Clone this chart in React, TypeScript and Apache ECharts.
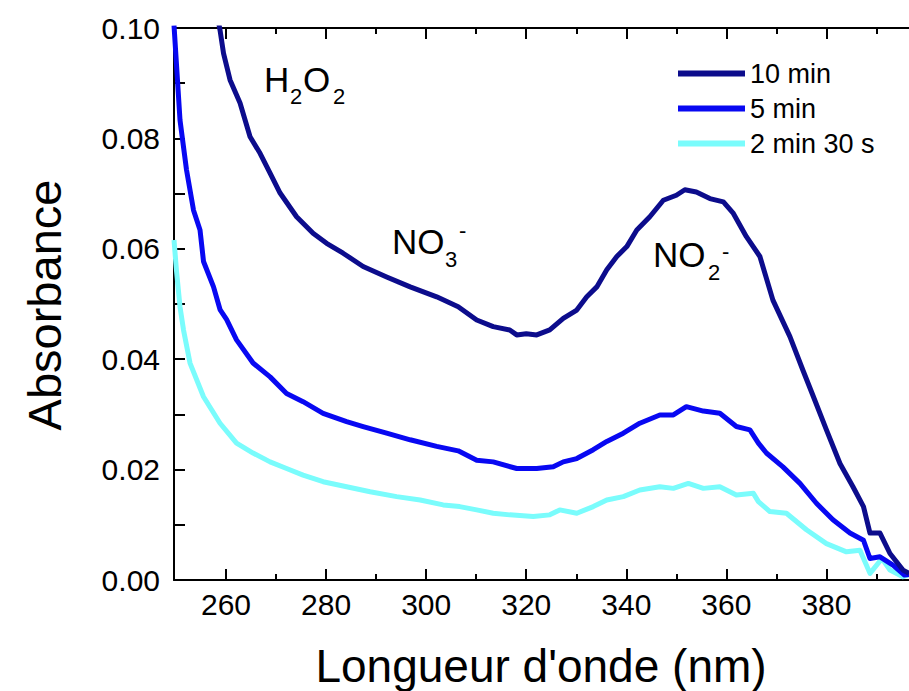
import React, { useEffect, useRef } from "react";
import * as echarts from "echarts";

// Wavelengths (nm) and absorbance
const wl10 = [257.5, 258.8, 259.5, 260.8, 262.8, 264.8, 266.8, 268.8, 270.8, 274.1, 277.4, 280.1, 283.4, 287.4, 292.1, 296.8, 302.1, 306.4, 310.1, 313.4, 316.7, 318.1, 320.0, 322.1, 324.7, 327.4, 330.1, 332.1, 334.1, 336.1, 338.1, 340.1, 342.1, 344.7, 347.4, 350.0, 351.7, 354.0, 356.7, 359.4, 361.4, 364.0, 366.7, 369.3, 372.7, 375.3, 377.4, 380.0, 382.7, 385.3, 387.4, 388.7, 390.7, 392.7, 395.3, 396.5];
const abs10 = [0.106, 0.0996, 0.0954, 0.0906, 0.0864, 0.0803, 0.0773, 0.0737, 0.0701, 0.0658, 0.0628, 0.061, 0.0592, 0.0568, 0.0549, 0.0531, 0.0513, 0.0495, 0.0471, 0.0459, 0.0453, 0.0444, 0.0446, 0.0444, 0.0453, 0.0474, 0.0489, 0.0513, 0.0531, 0.0562, 0.0586, 0.0604, 0.0634, 0.0658, 0.0688, 0.0697, 0.0707, 0.0703, 0.0691, 0.0685, 0.0664, 0.0622, 0.0586, 0.0507, 0.0441, 0.038, 0.0332, 0.0272, 0.0211, 0.0169, 0.0133, 0.0085, 0.0085, 0.0048, 0.0018, 0.0012];

const wl5 = [249.6, 250.8, 252.1, 253.5, 254.8, 255.5, 257.5, 258.8, 260.1, 262.1, 265.4, 268.8, 272.1, 275.4, 279.4, 284.1, 287.4, 292.1, 296.8, 302.1, 306.4, 310.1, 313.4, 318.1, 322.1, 325.4, 327.4, 330.1, 333.4, 336.1, 339.4, 342.7, 346.7, 349.4, 352.0, 355.4, 358.7, 362.0, 364.7, 366.4, 368.0, 371.3, 374.7, 378.0, 381.3, 384.7, 387.4, 388.7, 390.7, 393.3, 395.6, 396.5];
const abs5 = [0.1005, 0.0833, 0.0743, 0.067, 0.0634, 0.0577, 0.0531, 0.049, 0.0472, 0.0435, 0.0393, 0.0368, 0.0338, 0.0323, 0.0302, 0.0287, 0.0278, 0.0266, 0.0254, 0.0242, 0.0234, 0.0217, 0.0214, 0.0202, 0.0202, 0.0205, 0.0214, 0.022, 0.0236, 0.0251, 0.0266, 0.0284, 0.0299, 0.0299, 0.0314, 0.0306, 0.0302, 0.0278, 0.0272, 0.0248, 0.023, 0.0205, 0.0175, 0.0139, 0.0109, 0.0085, 0.0072, 0.0039, 0.0042, 0.0027, 0.0009, 0.001];

const wl2 = [249.6, 250.1, 250.8, 251.5, 252.8, 255.5, 258.8, 262.1, 265.4, 268.8, 272.1, 275.4, 279.4, 284.1, 288.8, 294.1, 298.8, 303.4, 306.7, 310.1, 313.4, 316.7, 321.4, 324.7, 326.7, 330.1, 333.4, 336.1, 339.4, 342.7, 346.7, 349.4, 352.4, 355.4, 358.7, 362.0, 365.4, 366.4, 368.7, 372.0, 376.0, 380.0, 384.0, 386.7, 388.7, 391.1, 392.7, 395.3, 396.5];
const abs2 = [0.0616, 0.056, 0.0495, 0.0453, 0.0393, 0.0332, 0.0284, 0.0248, 0.023, 0.0214, 0.0202, 0.019, 0.0178, 0.0169, 0.016, 0.0151, 0.0145, 0.0136, 0.0133, 0.0127, 0.0121, 0.0118, 0.0115, 0.0118, 0.0127, 0.0121, 0.0133, 0.0145, 0.0151, 0.0163, 0.0169, 0.0166, 0.0175, 0.0166, 0.0169, 0.0154, 0.0157, 0.0142, 0.0124, 0.0121, 0.0091, 0.0066, 0.0051, 0.0054, 0.0012, 0.0039, 0.0018, 0.0006, 0.001];

const seriesNames = ["10 min", "5 min", "2 min 30 s"];
const seriesColors = ["#0c0c8c", "#0808f2", "#7afcfc"];
const xMajorTicks = [260, 280, 300, 320, 340, 360, 380];
const xMinorTicks = [270, 290, 310, 330, 350, 370, 390];
const X_MIN = 249.6;
const X_MAX = 396.5;

const FONT = "'Liberation Sans', Arial, sans-serif";

function pairs(xs: number[], ys: number[]) {
  return xs.map((x, i) => [x, ys[i]]);
}

export default function App() {
  const ref = useRef<HTMLDivElement>(null);
  useEffect(() => {
    if (!ref.current) return;
    const chart = echarts.init(ref.current, null, { renderer: "svg" });
    const axisLine = { show: true, lineStyle: { color: "#000", width: 2 } };
    const tickStyle = { color: "#000", width: 2 };
    const baseX = { type: "value", min: X_MIN, max: X_MAX, splitLine: { show: false } };
    const lab = (t: string, x: number, y: number, size: number) => ({
      type: "text",
      x,
      y,
      style: { text: t, fontSize: size, fontFamily: FONT, fill: "#000", verticalAlign: "middle", align: "left" },
    });
    chart.setOption({
      animation: false,
      backgroundColor: "#fff",
      grid: { left: 174, top: 28, right: 0, bottom: 111, containLabel: false },
      xAxis: [
        {
          ...baseX,
          position: "bottom",
          axisLine,
          axisTick: { show: true, inside: true, length: 11, lineStyle: tickStyle, customValues: xMajorTicks },
          axisLabel: { show: true, margin: 9, fontSize: 30, color: "#000", fontFamily: FONT, customValues: xMajorTicks },
        },
        {
          ...baseX,
          position: "bottom",
          axisLine: { show: false },
          axisTick: { show: true, inside: true, length: 6, lineStyle: tickStyle, customValues: xMinorTicks },
          axisLabel: { show: false },
        },
        {
          ...baseX,
          position: "top",
          axisLine,
          axisTick: { show: true, inside: true, length: 11, lineStyle: tickStyle, customValues: xMajorTicks },
          axisLabel: { show: false },
        },
        {
          ...baseX,
          position: "top",
          axisLine: { show: false },
          axisTick: { show: true, inside: true, length: 6, lineStyle: tickStyle, customValues: xMinorTicks },
          axisLabel: { show: false },
        },
      ],
      yAxis: {
        type: "value",
        min: 0,
        max: 0.1,
        interval: 0.02,
        splitLine: { show: false },
        axisLine,
        axisTick: { show: true, inside: true, length: 11, lineStyle: tickStyle },
        minorTick: { show: true, splitNumber: 2, length: 11, lineStyle: tickStyle },
        axisLabel: {
          margin: 14,
          fontSize: 30,
          color: "#000",
          fontFamily: FONT,
          formatter: (v: number) => v.toFixed(2),
        },
      },
      legend: {
        orient: "vertical",
        left: 673,
        top: 55,
        itemWidth: 67,
        itemHeight: 6,
        itemGap: 8,
        icon: "rect",
        textStyle: { fontSize: 27, color: "#000", fontFamily: FONT },
        data: seriesNames,
      },
      series: [
        { name: seriesNames[0], data: pairs(wl10, abs10) },
        { name: seriesNames[1], data: pairs(wl5, abs5) },
        { name: seriesNames[2], data: pairs(wl2, abs2) },
      ].map((s, i) => ({
        ...s,
        type: "line",
        xAxisIndex: 0,
        showSymbol: false,
        symbol: "none",
        clip: true,
        color: seriesColors[i],
        lineStyle: { width: 5, color: seriesColors[i], join: "round" },
        z: 3 - i,
      })),
      graphic: [
        {
          type: "text",
          x: 44,
          y: 305,
          rotation: Math.PI / 2,
          style: { text: "Absorbance", fontSize: 47, fontFamily: FONT, fill: "#000", align: "center", verticalAlign: "middle" },
        },
        {
          type: "text",
          x: 541,
          y: 666,
          style: { text: "Longueur d'onde (nm)", fontSize: 46, fontFamily: FONT, fill: "#000", align: "center", verticalAlign: "middle" },
        },
        lab("H", 264, 79, 35),
        lab("2", 290, 96, 22),
        lab("O", 303, 79, 35),
        lab("2", 333, 96, 22),
        lab("NO", 392, 241, 35),
        lab("3", 445, 259, 22),
        lab("-", 459, 230, 22),
        lab("NO", 653, 254, 35),
        lab("2", 708, 272, 22),
        lab("-", 722, 251, 22),
      ],
    });
    return () => chart.dispose();
  }, []);
  return <div ref={ref} style={{ position: "fixed", left: 0, top: 0, width: 909, height: 691 }} />;
}
